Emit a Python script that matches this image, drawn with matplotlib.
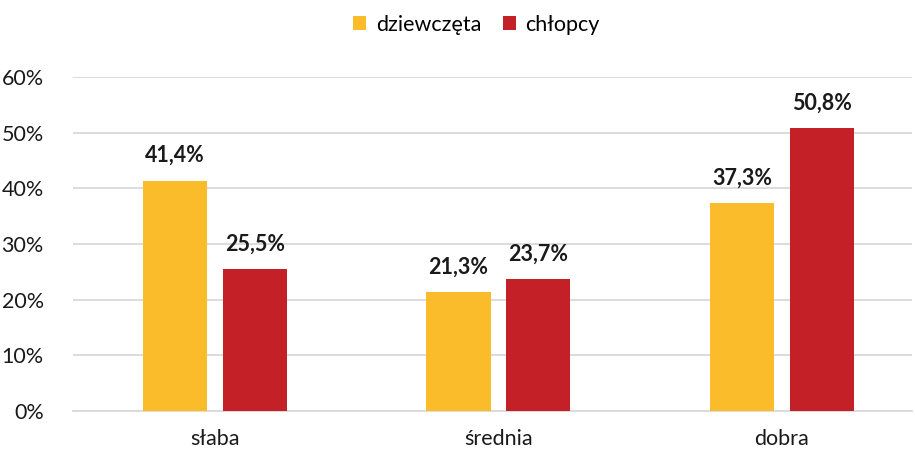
import numpy as np
import matplotlib.pyplot as plt
from matplotlib.ticker import PercentFormatter

plt.rcParams['font.family'] = ['Lato', 'DejaVu Sans']

# dane
kategorie = ['słaba', 'średnia', 'dobra']
dziewczeta = [41.4, 21.3, 37.3]
chlopcy = [25.5, 23.7, 50.8]

kolor_dz = '#FBBC2C'
kolor_ch = '#C42028'

fig = plt.figure(figsize=(9.15, 4.51), dpi=100)
ax = fig.add_axes([73 / 915, 1 - 411 / 451, (912 - 73) / 915, (411 - 77) / 451])

x = np.arange(len(kategorie))
w = 0.226
off = 0.141
b1 = ax.bar(x - off, dziewczeta, w, color=kolor_dz, label='dziewczęta', zorder=3)
b2 = ax.bar(x + off, chlopcy, w, color=kolor_ch, label='chłopcy', zorder=3)

for bars in (b1, b2):
    for b in bars:
        v = b.get_height()
        ax.text(b.get_x() + b.get_width() / 2, v + 2.6, f'{v:.1f}%'.replace('.', ','),
                ha='center', va='bottom', fontsize=15.5, fontweight='bold', color='#1a1a1a')

ax.set_ylim(0, 60)
ax.set_xlim(-0.501, 2.459)
ax.set_yticks(np.arange(0, 61, 10))
ax.yaxis.set_major_formatter(PercentFormatter(decimals=0))
ax.set_xticks(x)
ax.set_xticklabels(kategorie)
ax.tick_params(axis='both', length=0, labelsize=15.5, colors='#1a1a1a')
ax.tick_params(axis='x', pad=13)
ax.tick_params(axis='y', pad=21)
ax.grid(axis='y', color='#D9D9D9', linewidth=1.3, zorder=0)
for s in ['top', 'right', 'left']:
    ax.spines[s].set_visible(False)
ax.spines['bottom'].set_color('#D9D9D9')
ax.spines['bottom'].set_linewidth(1.3)

ax.legend(loc='upper center', bbox_to_anchor=(0.481, 1.245), ncol=2, frameon=False,
          fontsize=15.5, handlelength=0.6, handleheight=0.6, handletextpad=0.45,
          columnspacing=1.0)

fig.savefig('out.png', dpi=100)
